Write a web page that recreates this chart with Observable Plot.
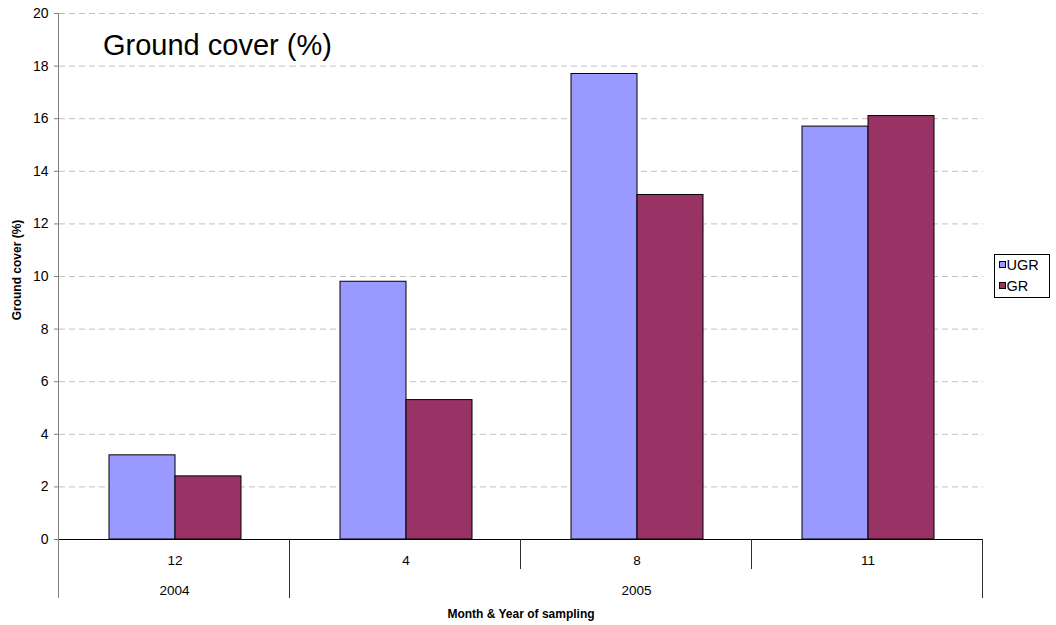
<!DOCTYPE html>
<html>
<head>
<meta charset="utf-8">
<script src="https://cdn.jsdelivr.net/npm/d3@7"></script>
<script src="https://cdn.jsdelivr.net/npm/@observablehq/plot@0.6"></script>
<style>
  body { margin: 0; background: #fff; }
  #chart { width: 1056px; height: 625px; }
</style>
</head>
<body>
<div id="chart"></div>
<script>
// ---- data ----
const months = ["12", "4", "8", "11"];
const years = ["2004", "2005", "2005", "2005"];
const seriesNames = ["UGR", "GR"];
const ugrValues = [3.2, 9.8, 17.7, 15.7];
const grValues = [2.4, 5.3, 13.1, 16.1];
const yTicks = [0, 2, 4, 6, 8, 10, 12, 14, 16, 18, 20];
const seriesColors = ["#9999ff", "#993366"];
const chartTitle = "Ground cover (%)";
const yTitle = "Ground cover (%)";
const xTitle = "Month & Year of sampling";

const table = months.flatMap((m, i) => [
  {month: m, series: seriesNames[0], value: ugrValues[i]},
  {month: m, series: seriesNames[1], value: grValues[i]}
]);

const FONT = '"Liberation Sans", Arial, Helvetica, sans-serif';

const chart = Plot.plot({
  width: 1056,
  height: 625,
  marginLeft: 59,
  marginRight: 73,
  marginTop: 13,
  marginBottom: 86,
  style: {fontFamily: FONT, fontSize: "13px", background: "#fff", color: "#000", overflow: "visible"},
  fx: {domain: months, padding: 0, label: null},
  x: {domain: seriesNames, paddingInner: 0, paddingOuter: 0.737, axis: null},
  y: {domain: [0, 20], label: null},
  color: {domain: seriesNames, range: seriesColors},
  marks: [
    Plot.gridY(yTicks.filter(t => t > 0), {stroke: "#c0c0c0", strokeOpacity: 1, strokeDasharray: "6,4"}),
    Plot.barY(table, {fx: "month", x: "series", y: "value", fill: "series", stroke: "#000", strokeWidth: 1}),
    Plot.ruleY([0], {stroke: "#000"}),
    Plot.axisY(yTicks, {tickSize: 5, tickPadding: 6, stroke: "#808080", fontSize: 14, label: null}),
    Plot.axisFx({anchor: "bottom", tickSize: 0, tickPadding: 16, fontSize: 13.5, label: null})
  ]
});
document.getElementById("chart").appendChild(chart);

// ---- decorations drawn from the Plot scales ----
const svg = d3.select(chart);
const fxS = chart.scale("fx");
const yS = chart.scale("y");
const band = d3.scaleBand(fxS.domain, fxS.range).padding(0);
const start = m => (fxS.apply ? fxS.apply(m) : band(m));
const bw = fxS.bandwidth != null ? fxS.bandwidth : band.bandwidth();
const y0 = yS.apply(0);
const yTop = yS.apply(d3.max(yTicks));
const g = svg.append("g").attr("font-family", FONT).attr("text-anchor", "start");

// vertical separators
const n = months.length;
for (let i = 0; i <= n; i++) {
  const x = Math.round(i < n ? start(months[i]) : start(months[n - 1]) + bw) - 0.5;
  const long = i === 0 || i === n || years[i] !== years[i - 1];
  g.append("line")
    .attr("x1", x).attr("x2", x)
    .attr("y1", i === 0 ? yTop : y0)
    .attr("y2", y0 + (long ? 59 : 30))
    .attr("stroke", i === 0 ? "#808080" : "#303030")
    .attr("stroke-width", 1);
}

// year labels centered on their group of months
const groups = d3.groups(months.map((m, i) => ({m, yr: years[i]})), d => d.yr);
for (const [yr, items] of groups) {
  const x1 = start(items[0].m);
  const x2 = start(items[items.length - 1].m) + bw;
  g.append("text").attr("x", (x1 + x2) / 2).attr("y", y0 + 56)
    .attr("text-anchor", "middle").attr("font-size", 13.5).text(yr);
}

// axis titles
g.append("text").attr("x", (fxS.range[0] + fxS.range[1]) / 2).attr("y", 618)
  .attr("text-anchor", "middle").attr("font-size", 12).attr("font-weight", "bold").text(xTitle);
g.append("text").attr("transform", `translate(21,${(yTop + y0) / 2 - 6}) rotate(-90)`)
  .attr("text-anchor", "middle").attr("font-size", 12).attr("font-weight", "bold").text(yTitle);

// title inside the plot
g.append("text").attr("x", 103).attr("y", 55).attr("font-size", 29).attr("text-anchor", "start").text(chartTitle);

// legend
const lg = g.append("g").attr("transform", "translate(994,254)");
lg.append("rect").attr("x", 0.5).attr("y", 0.5).attr("width", 55).attr("height", 43)
  .attr("fill", "#fff").attr("stroke", "#000");
seriesNames.forEach((s, i) => {
  const cy = 11 + i * 21;
  lg.append("rect").attr("x", 5.5).attr("y", cy - 3.5).attr("width", 6).attr("height", 6)
    .attr("fill", seriesColors[i]).attr("stroke", "#000");
  lg.append("text").attr("x", 12.5).attr("y", cy + 5).attr("font-size", 14.5)
    .attr("text-anchor", "start").text(s);
});
</script>
</body>
</html>
